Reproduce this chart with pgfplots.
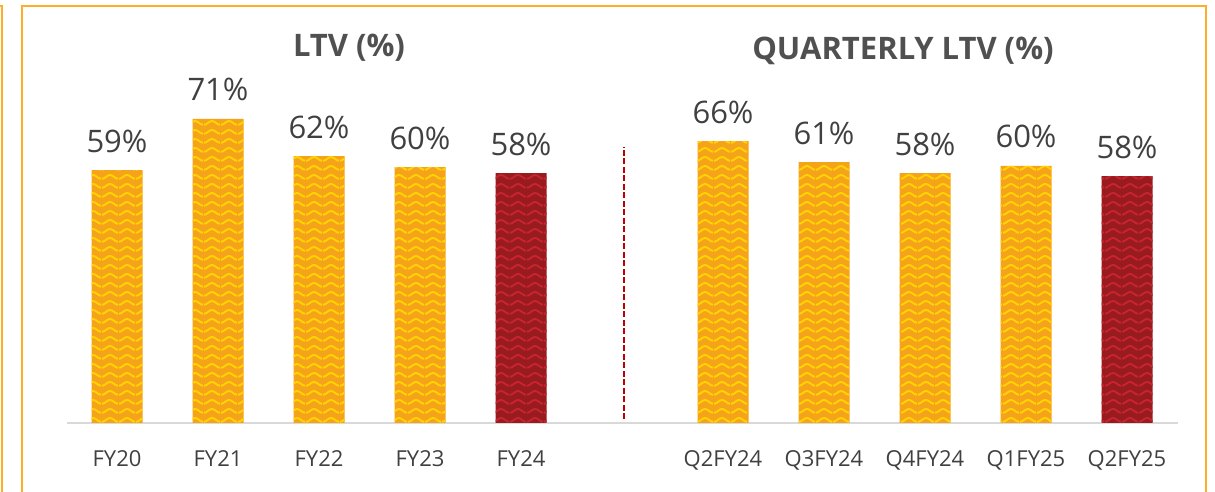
\documentclass[border=0pt]{standalone}
\usepackage{fontspec}
\setmainfont{Open Sans}
\usepackage{pgfplots}
\pgfplotsset{compat=1.18}
\usetikzlibrary{patterns.meta}

\definecolor{barorange}{RGB}{246,163,28}
\definecolor{waveyellow}{RGB}{255,212,0}
\definecolor{barred}{RGB}{152,27,32}
\definecolor{wavered}{RGB}{200,36,44}
\definecolor{framecol}{RGB}{255,172,38}
\definecolor{txtgray}{RGB}{64,64,64}
\definecolor{titlegray}{RGB}{80,80,80}
\definecolor{dashred}{RGB}{192,0,0}

% wavy fill like the spreadsheet bars
\tikzdeclarepattern{
  name=ltvwave,
  type=uncolored,
  bounding box={(0pt,0pt) and (17pt,8.6pt)},
  tile size={(17pt,8.6pt)},
  code={
    \draw[line width=2pt] (0pt,2.3pt) cos (4.25pt,4.3pt) sin (8.5pt,6.3pt)
      cos (12.75pt,4.3pt) sin (17pt,2.3pt);
  }
}

\begin{document}
\begin{tikzpicture}
\path[use as bounding box] (0,0) rectangle (1215pt,492pt);

% outer frame
\draw[framecol, line width=2pt] (22pt,0pt) -- (22pt,486pt) -- (1206pt,486pt) -- (1206pt,0pt);
\draw[framecol, line width=2pt] (2pt,0pt) -- (2pt,486pt) -- (0pt,486pt);

\begin{axis}[
    at={(66.5pt,69pt)}, anchor=south west,
    scale only axis, width=1111pt, height=342.8pt,
    xmin=-0.5, xmax=10.5, ymin=0, ymax=80,
    ybar, bar width=51pt, bar shift=0pt,
    axis x line*=bottom, axis y line=none,
    x axis line style={draw=black!15, line width=1.5pt, -},
    xtick={0,1,2,3,4,6,7,8,9,10},
    xticklabels={FY20,FY21,FY22,FY23,FY24,Q2FY24,Q3FY24,Q4FY24,Q1FY25,Q2FY25},
    major tick length=0pt,
    xticklabel style={anchor=base, yshift=-44pt, text=txtgray,
      font=\fontsize{22}{26}\selectfont},
    ytick=\empty,
    clip=false,
    /pgf/number format/assume math mode=true,
    nodes near coords={\pgfmathprintnumber[fixed,precision=0]{\pgfplotspointmeta}\%},
    nodes near coords style={anchor=base, yshift=18pt, text=txtgray,
      font=\fontsize{31}{37}\selectfont},
  ]
  \addplot[draw=none, fill=barorange, postaction={pattern=ltvwave, pattern color=waveyellow}]
    coordinates {(0,59) (1,71) (2,62.3) (3,59.7) (6,65.8) (7,60.9) (8,58.3) (9,60)};
  \addplot[draw=none, fill=barred, postaction={pattern=ltvwave, pattern color=wavered}]
    coordinates {(4,58.3) (10,57.6)};

  \draw[dashred, line width=2pt, dash pattern=on 6pt off 2.5pt]
    (axis cs:5.02,0.9) -- (axis cs:5.02,64.4);
\end{axis}

\node[anchor=base, text=titlegray, font=\bfseries\fontsize{31}{37}\selectfont]
  at (349pt,435pt) {LTV (\%)};
\node[anchor=base, text=titlegray, font=\bfseries\fontsize{31}{37}\selectfont]
  at (903pt,432pt) {QUARTERLY LTV (\%)};
\end{tikzpicture}
\end{document}
